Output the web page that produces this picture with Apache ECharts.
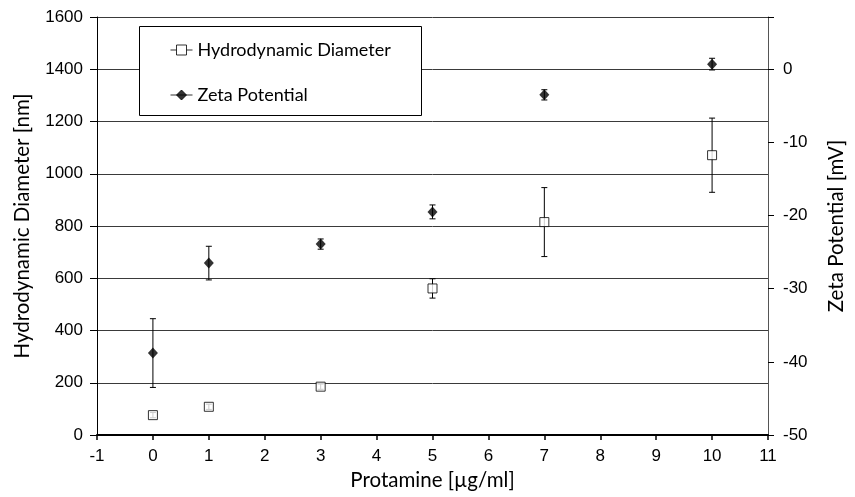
<!DOCTYPE html>
<html>
<head>
<meta charset="utf-8">
<script src="https://cdn.jsdelivr.net/npm/echarts@6/dist/echarts.min.js"></script>
<style>html,body{margin:0;padding:0;background:#fff;}#c{width:855px;height:497px;}</style>
</head>
<body>
<div id="c"></div>
<script>
// Data
const concentration = [0, 1, 3, 5, 7, 10];
const diameter = [76, 108, 185, 561, 815, 1071];
const diameterErr = [10, 10, 10, 37, 132, 142];
const zeta = [-38.8, -26.5, -23.9, -19.5, -3.5, 0.7];
const zetaErr = [4.7, 2.3, 0.7, 0.95, 0.7, 0.8];
const xTicks = [-1, 0, 1, 2, 3, 4, 5, 6, 7, 8, 9, 10, 11];
const leftTicks = [0, 200, 400, 600, 800, 1000, 1200, 1400, 1600];
const rightTicks = [-50, -40, -30, -20, -10, 0];

const chart = echarts.init(document.getElementById('c'));
const tickFont = { fontFamily: '"Liberation Sans", Arial, sans-serif', fontSize: 17, color: '#000' };
const titleFont = { fontFamily: 'Lato, "Open Sans", sans-serif', fontSize: 20.5, color: '#000' };
const legendFont = { fontFamily: 'Lato, "Open Sans", sans-serif', fontSize: 18, color: '#000' };

function errBar(params, api) {
  const x = api.value(0);
  const lo = api.coord([x, api.value(1)]);
  const hi = api.coord([x, api.value(2)]);
  const cap = 3;
  const style = { stroke: '#000', lineWidth: 1 };
  return {
    type: 'group',
    children: [
      { type: 'line', shape: { x1: lo[0], y1: lo[1], x2: hi[0], y2: hi[1] }, style },
      { type: 'line', shape: { x1: lo[0] - cap, y1: lo[1], x2: lo[0] + cap, y2: lo[1] }, style },
      { type: 'line', shape: { x1: hi[0] - cap, y1: hi[1], x2: hi[0] + cap, y2: hi[1] }, style }
    ]
  };
}

const rightMax = 50 / 7;
const isIn = (arr, v) => arr.some(t => Math.abs(t - v) < 1e-6);

chart.setOption({
  animation: false,
  backgroundColor: '#fff',
  grid: { left: 97, right: 84, top: 17, bottom: 62 },
  xAxis: {
    type: 'value', min: -1, max: 11, interval: 1,
    name: 'Protamine [µg/ml]', nameLocation: 'middle', nameGap: 34, nameTextStyle: titleFont,
    axisLine: { show: true, onZero: false, lineStyle: { color: '#000', width: 2 } },
    axisTick: { show: true, length: 5, lineStyle: { color: '#000', width: 1.5 } },
    axisLabel: Object.assign({ margin: 13, formatter: v => (isIn(xTicks, v) ? String(v) : '') }, tickFont),
    splitLine: { show: false }
  },
  yAxis: [
    {
      type: 'value', min: 0, max: 1600, interval: 200, position: 'left',
      name: 'Hydrodynamic Diameter [nm]', nameLocation: 'middle', nameGap: 64, nameRotate: 90, nameTextStyle: titleFont,
      axisLine: { show: true, onZero: false, lineStyle: { color: '#000', width: 1 } },
      axisTick: { show: true, length: 7, lineStyle: { color: '#000' } },
      axisLabel: Object.assign({ margin: 14, formatter: v => (isIn(leftTicks, v) ? String(v) : '') }, tickFont),
      splitLine: { show: true, lineStyle: { color: '#3a3a3a', width: 1 } }
    },
    {
      type: 'value', min: -50, max: rightMax, interval: 10, position: 'right',
      name: 'Zeta Potential [mV]', nameLocation: 'middle', nameGap: 58, nameRotate: 90, nameTextStyle: titleFont,
      axisLine: { show: true, onZero: false, lineStyle: { color: '#555', width: 1 } },
      axisTick: { show: true, length: 6, lineStyle: { color: '#000' } },
      axisLabel: Object.assign({ margin: 15, formatter: v => (isIn(rightTicks, v) ? String(v) : '') }, tickFont),
      splitLine: { show: false }
    }
  ],
  legend: {
    orient: 'vertical', left: 170, top: 39, padding: 0,
    itemWidth: 22, itemHeight: 10, itemGap: 23,
    textStyle: Object.assign({ lineHeight: 22 }, legendFont),
    z: 10,
    data: [
      { name: 'Hydrodynamic Diameter', icon: 'path://M0,5 L6,5 M16,5 L22,5 M6,0 L16,0 L16,10 L6,10 Z',
        itemStyle: { color: '#fff', borderColor: '#000', borderWidth: 1 } },
      { name: 'Zeta Potential', icon: 'path://M0,5 L22,5 M11,0 L16,5 L11,10 L6,5 Z',
        itemStyle: { color: '#000', borderColor: '#000', borderWidth: 1 } }
    ]
  },
  graphic: [
    { type: 'rect', z: 5, shape: { x: 139.5, y: 26.5, width: 282, height: 89 },
      style: { fill: '#fff', stroke: '#000', lineWidth: 1 } }
  ],
  series: [
    {
      type: 'custom', name: 'dErr', yAxisIndex: 0, z: 1, silent: true,
      renderItem: errBar, encode: { x: 0, y: [1, 2] },
      data: concentration.map((c, i) => [c, diameter[i] - diameterErr[i], diameter[i] + diameterErr[i]])
    },
    {
      type: 'custom', name: 'zErr', yAxisIndex: 1, z: 1, silent: true,
      renderItem: errBar, encode: { x: 0, y: [1, 2] },
      data: concentration.map((c, i) => [c, zeta[i] - zetaErr[i], zeta[i] + zetaErr[i]])
    },
    {
      type: 'scatter', name: 'Hydrodynamic Diameter', yAxisIndex: 0, z: 3,
      symbol: 'rect', symbolSize: 9,
      itemStyle: { color: '#fff', borderColor: '#000', borderWidth: 1 },
      data: concentration.map((c, i) => [c, diameter[i]])
    },
    {
      type: 'scatter', name: 'Zeta Potential', yAxisIndex: 1, z: 3,
      symbol: 'diamond', symbolSize: [10, 11],
      itemStyle: { color: '#000' },
      data: concentration.map((c, i) => [c, zeta[i]])
    }
  ]
});
</script>
</body>
</html>
